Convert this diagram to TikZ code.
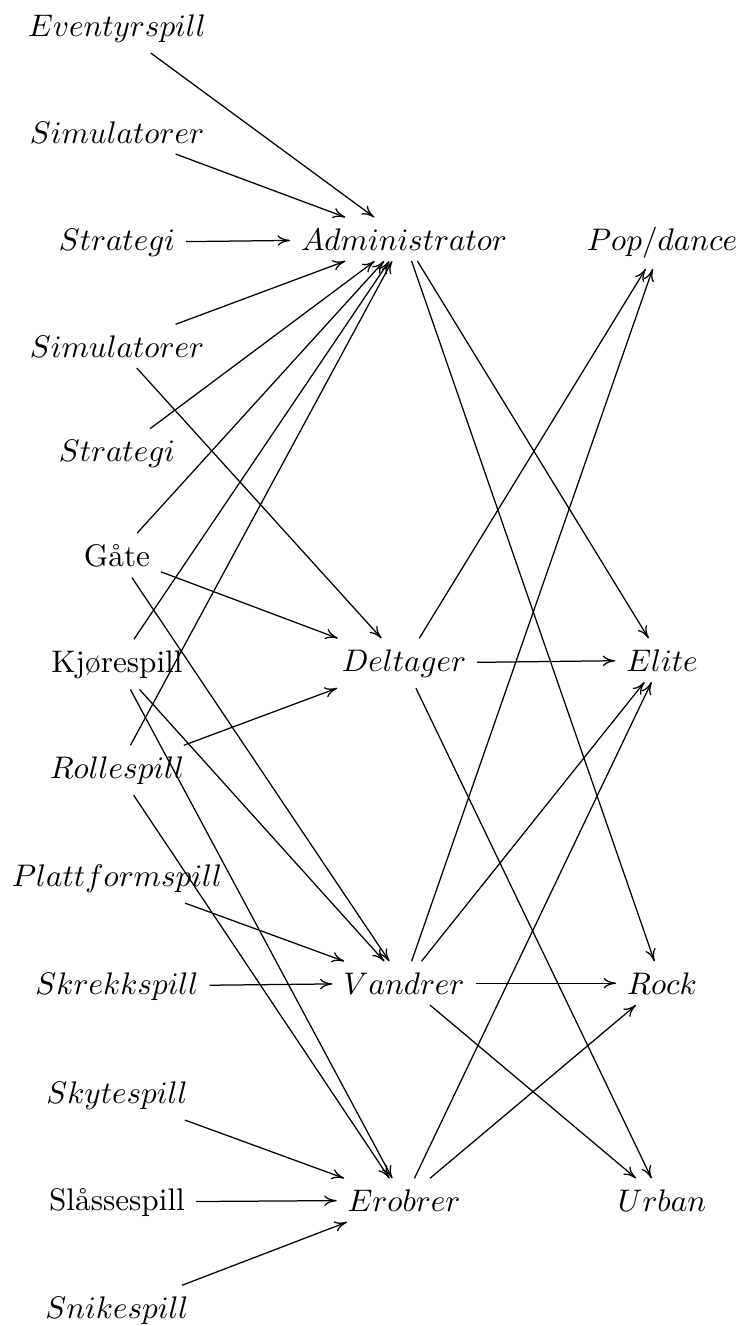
\documentclass[tikz,border=0pt]{standalone}
\usetikzlibrary{arrows.meta}
\begin{document}
\begin{tikzpicture}[x=0.3205pt,y=-0.3205pt,
  lbl/.style={anchor=base},
  arr/.style={-{To[length=4pt,width=3.4pt]}}]
\useasboundingbox (0,0) rectangle (739,1326);
% left column
\node[lbl] (ev)  at (117,36)   {$Eventyrspill$};
\node[lbl] (sim1) at (117,143) {$Simulatorer$};
\node[lbl] (str1) at (117,250) {$Strategi$};
\node[lbl] (sim2) at (117,357) {$Simulatorer$};
\node[lbl] (str2) at (117,461) {$Strategi$};
\node[lbl] (gate) at (117,566) {Gåte};
\node[lbl] (kjo)  at (117,672) {Kjørespill};
\node[lbl] (rol)  at (117,778) {$Rollespill$};
\node[lbl] (pla)  at (117,886) {$Plattformspill$};
\node[lbl] (skr)  at (117,994) {$Skrekkspill$};
\node[lbl] (sky)  at (117,1103) {$Skytespill$};
\node[lbl] (sla)  at (117,1210) {Slåssespill};
\node[lbl] (sni)  at (117,1318) {$Snikespill$};
% middle column
\node[lbl] (adm) at (404,250)  {$Administrator$};
\node[lbl] (del) at (404,671)  {$Deltager$};
\node[lbl] (van) at (404,994)  {$Vandrer$};
\node[lbl] (ero) at (404,1211) {$Erobrer$};
% right column
\node[lbl] (pop) at (662,250)  {$Pop/dance$};
\node[lbl] (eli) at (662,671)  {$Elite$};
\node[lbl] (roc) at (662,994)  {$Rock$};
\node[lbl] (urb) at (662,1211) {$Urban$};
% into Administrator
\draw[arr] (ev) -- (adm);
\draw[arr] (sim1) -- (adm);
\draw[arr] (str1) -- (adm);
\draw[arr] (sim2) -- (adm);
\draw[arr] (str2) -- (adm);
\draw[arr] (gate) -- (adm);
\draw[arr] (kjo) -- (adm);
\draw[arr] (rol) -- (adm);
% into Deltager
\draw[arr] (sim2) -- (del);
\draw[arr] (gate) -- (del);
\draw[arr] (rol) -- (del);
% into Vandrer
\draw[arr] (gate) -- (van);
\draw[arr] (kjo) -- (van);
\draw[arr] (pla) -- (van);
\draw[arr] (skr) -- (van);
% into Erobrer
\draw[arr] (kjo) -- (ero);
\draw[arr] (rol) -- (ero);
\draw[arr] (sky) -- (ero);
\draw[arr] (sla) -- (ero);
\draw[arr] (sni) -- (ero);
% outgoing
\draw[arr] (adm) -- (eli);
\draw[arr] (adm) -- (roc);
\draw[arr] (del) -- (pop);
\draw[arr] (del) -- (eli);
\draw[arr] (del) -- (urb);
\draw[arr] (van) -- (pop);
\draw[arr] (van) -- (eli);
\draw[arr] (van) -- (roc);
\draw[arr] (van) -- (urb);
\draw[arr] (ero) -- (eli);
\draw[arr] (ero) -- (roc);
\end{tikzpicture}
\end{document}
